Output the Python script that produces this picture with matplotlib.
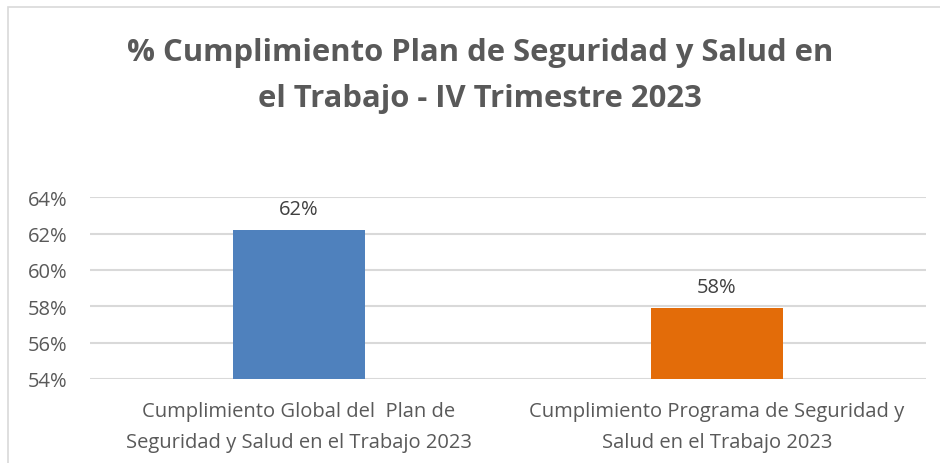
import matplotlib
matplotlib.use("Agg")
import matplotlib.pyplot as plt
from matplotlib.patches import Rectangle

categories = ["Cumplimiento Global del  Plan de\nSeguridad y Salud en el Trabajo 2023",
              "Cumplimiento Programa de Seguridad y\nSalud en el Trabajo 2023"]
values = [62.2, 57.9]
labels = ["62%", "58%"]
yticks = [54, 56, 58, 60, 62, 64]
colors = ["#4F81BD", "#E36C09"]
title = "% Cumplimiento Plan de Seguridad y Salud en\nel Trabajo - IV Trimestre 2023"

plt.rcParams['font.family'] = ['Open Sans', 'DejaVu Sans']

fig = plt.figure(figsize=(9.4, 4.64), dpi=100)
fig.patches.append(Rectangle((8/940, -0.1), 1.2, (1 - 8/464) + 0.1, transform=fig.transFigure,
                             fill=False, edgecolor="#D9D9D9", linewidth=1.2))
ax = fig.add_axes([90/940, 1 - 380/464, (926 - 90)/940, (380 - 198.3)/464])

x = range(len(categories))
ax.bar(x, [v - 54 for v in values], bottom=54, width=0.316, color=colors, zorder=3)
for xi, v, lab in zip(x, values, labels):
    ax.annotate(lab, (xi, v), xytext=(0, 8), textcoords="offset points",
                ha="center", va="bottom", fontsize=14.5, color="#404040")

ax.set_xlim(-0.5, 1.5)
ax.set_ylim(54, 64)
ax.set_yticks(yticks)
ax.set_yticklabels([f"{t}%" for t in yticks])
ax.set_xticks(list(x))
ax.set_xticklabels(categories)
ax.tick_params(axis="both", length=0, labelsize=14.5, labelcolor="#595959")
ax.tick_params(axis="y", pad=16)
ax.tick_params(axis="x", pad=16)
for lab in ax.get_xticklabels():
    lab.set_linespacing(1.75)
ax.grid(axis="y", color="#D9D9D9", linewidth=1.5, zorder=0)
ax.set_axisbelow(True)
for s in ax.spines.values():
    s.set_visible(False)

fig.text(480/940, 1 - 76/464, title, ha="center", va="center", fontsize=22.3,
         fontweight="bold", color="#595959", linespacing=1.7)

fig.savefig("out.png", dpi=100)
